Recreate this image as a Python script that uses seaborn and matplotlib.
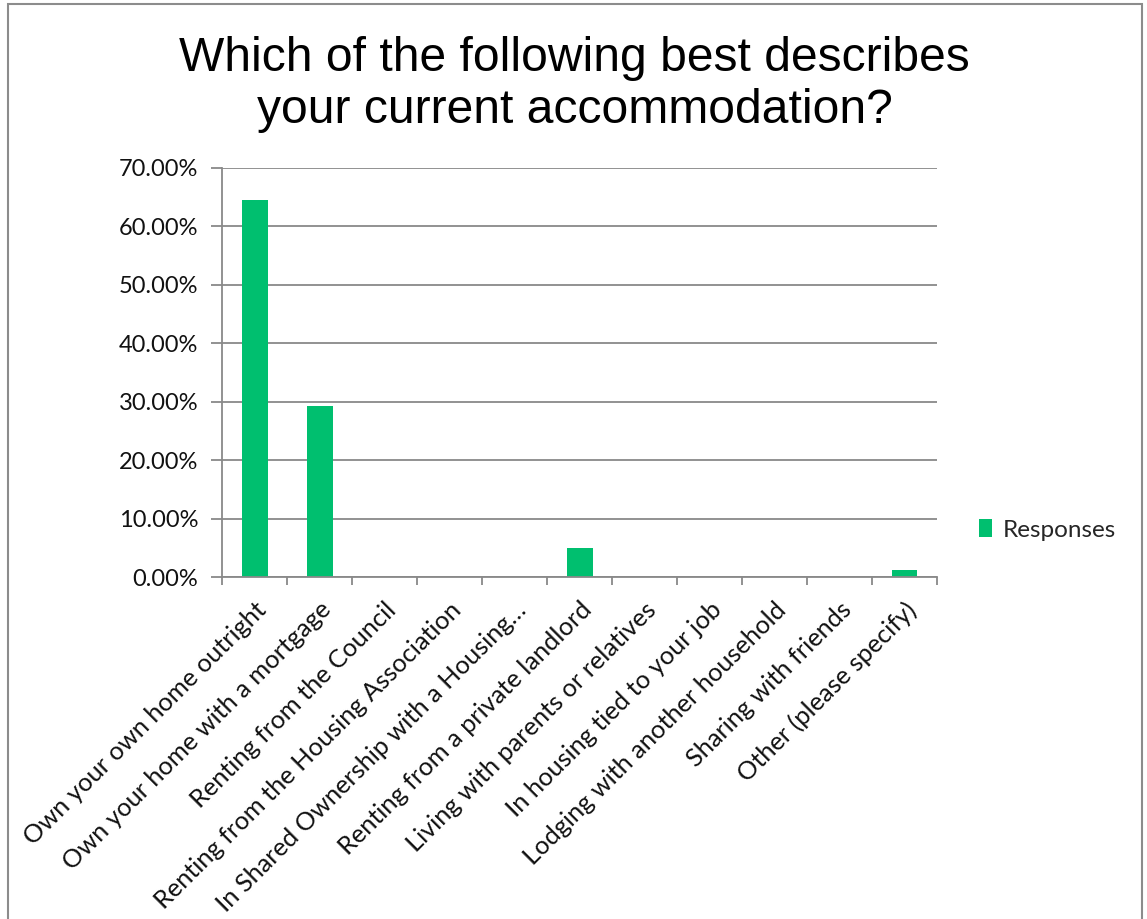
import matplotlib
matplotlib.use("Agg")
import matplotlib.pyplot as plt
from matplotlib.patches import Rectangle, Patch
from matplotlib.ticker import FuncFormatter, MultipleLocator
import seaborn as sns
import pandas as pd

categories = [
    "Own your own home outright",
    "Own your home with a mortgage",
    "Renting from the Council",
    "Renting from the Housing Association",
    "In Shared Ownership with a Housing\u2026",
    "Renting from a private landlord",
    "Living with parents or relatives",
    "In housing tied to your job",
    "Lodging with another household",
    "Sharing with friends",
    "Other (please specify)",
]
responses = [64.6, 29.2, 0.0, 0.0, 0.0, 4.9, 0.0, 0.0, 0.0, 0.0, 1.2]
series_name = "Responses"
title = "Which of the following best describes\nyour current accommodation?"

bar_color = "#00BF6F"
axis_color = "#898989"
label_font = "Lato"

sns.set_theme(style="white")
plt.rcParams["font.family"] = [label_font, "DejaVu Sans"]

df = pd.DataFrame({"category": categories, "value": responses})

fig = plt.figure(figsize=(11.47, 9.19), dpi=100)
ax = fig.add_axes([222 / 1147, 1 - 577 / 919, (937 - 222) / 1147, (577 - 168) / 919])

sns.barplot(data=df, x="category", y="value", color=bar_color, width=0.4,
            saturation=1, ax=ax, edgecolor="none")

ax.set_ylim(0, 70)
ax.set_xlim(-0.5, len(categories) - 0.5)
ax.yaxis.set_major_locator(MultipleLocator(10))
ax.yaxis.set_major_formatter(FuncFormatter(lambda v, _: f"{v:.2f}%"))
ax.grid(axis="y", color=axis_color, linewidth=1.3)
ax.grid(axis="x", visible=False)
ax.set_axisbelow(True)
ax.set_xlabel("")
ax.set_ylabel("")

for side in ("top", "right"):
    ax.spines[side].set_visible(False)
for side in ("left", "bottom"):
    ax.spines[side].set_color(axis_color)
    ax.spines[side].set_linewidth(1.3)

# category ticks sit on the boundaries between bars
ax.set_xticks([i + 0.5 for i in range(-1, len(categories))], minor=True)
ax.tick_params(axis="x", which="minor", length=6, width=1.3, color=axis_color, bottom=True)
ax.tick_params(axis="x", which="major", length=0, pad=15)
ax.tick_params(axis="y", which="major", length=8, width=1.3, color=axis_color, left=True,
               labelsize=17, pad=9, labelcolor="#111111")
ax.set_xticks(range(len(categories)))
ax.set_xticklabels(categories, rotation=45, ha="right", rotation_mode="anchor",
                   fontsize=18.3, va="top", color="#111111")

ax.legend(handles=[Patch(facecolor=bar_color, edgecolor="none", label=series_name)],
          loc="center left", bbox_to_anchor=(1.045, 0.115), frameon=False,
          fontsize=17.5, handlelength=0.55, handleheight=0.75, handletextpad=0.45,
          borderaxespad=0)

fig.text(0.501, 1 - 36 / 919, title, ha="center", va="top",
         fontsize=34.6, family="Liberation Sans", linespacing=1.2, color="black")

fig.patches.append(Rectangle((8 / 1147, -0.05), (1142 - 8) / 1147, 1.05 - 4 / 919,
                             transform=fig.transFigure, fill=False,
                             edgecolor="#8c8c8c", linewidth=1.5))

fig.savefig("out.png", dpi=100, facecolor="white")
